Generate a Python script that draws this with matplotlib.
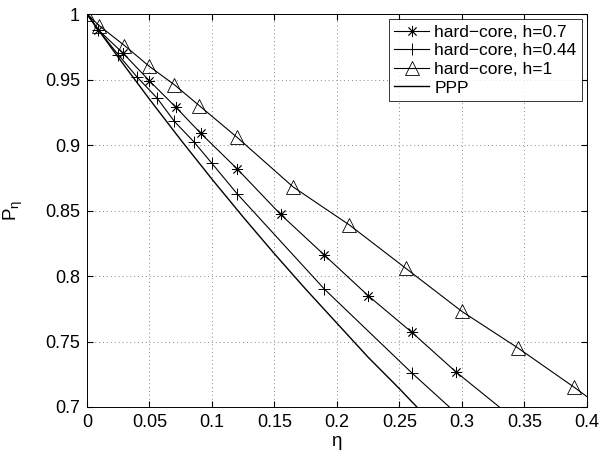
"""Outage probability vs eta: hard-core processes against PPP."""

import matplotlib
matplotlib.use("Agg")
import matplotlib.pyplot as plt
from matplotlib.ticker import FormatStrFormatter

# values
eta_h07 = [0, 0.009, 0.029, 0.05, 0.071, 0.091, 0.12, 0.155, 0.19, 0.225, 0.26, 0.295, 0.33]
p_h07 = [1, 0.988, 0.97, 0.949, 0.929, 0.909, 0.882, 0.847, 0.816, 0.785, 0.757, 0.727, 0.70]
n_mark_h07 = 12

eta_h044 = [0, 0.009, 0.025, 0.04, 0.056, 0.07, 0.086, 0.1, 0.12, 0.19, 0.26, 0.29]
p_h044 = [1, 0.988, 0.969, 0.952, 0.936, 0.918, 0.902, 0.886, 0.863, 0.790, 0.726, 0.70]
n_mark_h044 = 11

eta_h1 = [0, 0.01, 0.03, 0.05, 0.07, 0.09, 0.12, 0.165, 0.21, 0.255, 0.3, 0.345, 0.39, 0.4]
p_h1 = [1, 0.991, 0.976, 0.960, 0.946, 0.930, 0.906, 0.868, 0.839, 0.806, 0.773, 0.745, 0.715, 0.708]
n_mark_h1 = 13

eta_ppp = [0, 0.025, 0.05, 0.075, 0.1, 0.125, 0.15, 0.175, 0.2, 0.225, 0.25, 0.265]
p_ppp = [1, 0.967, 0.935, 0.904, 0.874, 0.845, 0.817, 0.790, 0.764, 0.738, 0.714, 0.699]

x_ticks = [0, 0.05, 0.1, 0.15, 0.2, 0.25, 0.3, 0.35, 0.4]
y_ticks = [0.7, 0.75, 0.8, 0.85, 0.9, 0.95, 1]


def main() -> None:
    plt.rcParams["font.family"] = ["Liberation Sans", "DejaVu Sans"]
    plt.rcParams["mathtext.fontset"] = "custom"
    plt.rcParams["mathtext.rm"] = "Liberation Sans"
    plt.rcParams["mathtext.it"] = "Liberation Sans"

    fig = plt.figure(figsize=(6, 4.55), dpi=100)
    ax = fig.add_axes([0.145, 0.1055, 0.833, 0.8635])

    lw = 0.8
    ax.plot(eta_h07, p_h07, color="black", lw=lw, marker=(8, 2, 0), ms=8,
            mew=0.6, markevery=list(range(n_mark_h07)), label="hard\u2212core, h=0.7")
    ax.plot(eta_h044, p_h044, color="black", lw=lw, marker="+", ms=9,
            mew=0.7, markevery=list(range(n_mark_h044)), label="hard\u2212core, h=0.44")
    ax.plot(eta_h1, p_h1, color="black", lw=lw, marker="^", ms=10,
            mfc="none", mew=0.6, markevery=list(range(n_mark_h1)), label="hard\u2212core, h=1")
    ax.plot(eta_ppp, p_ppp, color="black", lw=1.0, label="PPP")

    ax.set_xlim(0, 0.4)
    ax.set_ylim(0.7, 1)
    ax.set_xticks(x_ticks)
    ax.set_yticks(y_ticks)
    ax.xaxis.set_major_formatter(FormatStrFormatter("%g"))
    ax.yaxis.set_major_formatter(FormatStrFormatter("%g"))
    ax.tick_params(direction="in", top=True, right=True, labelsize=13, length=4, pad=5)
    ax.grid(True, color="#888888", linestyle=(0, (1, 3)), linewidth=0.7)
    for s in ax.spines.values():
        s.set_linewidth(0.7)

    ax.set_xlabel(r"$\eta$", fontsize=13.5, labelpad=2)
    ax.set_ylabel(r"$\mathregular{P_{\eta}}$", fontsize=13.5, labelpad=14)

    leg = ax.legend(loc="upper right", fontsize=12.5, frameon=True, fancybox=False,
                    edgecolor="black", borderpad=0.3, labelspacing=0.2,
                    handlelength=2.0, handletextpad=0.3, borderaxespad=0.3)
    leg.get_frame().set_linewidth(0.7)

    fig.savefig("out.png", dpi=100)
    plt.close(fig)


if __name__ == "__main__":
    main()
